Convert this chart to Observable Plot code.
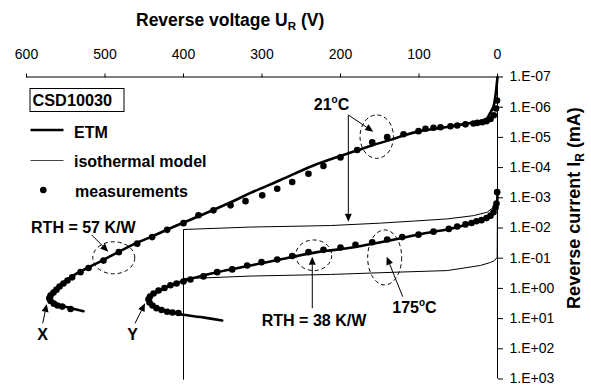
<!DOCTYPE html>
<html><head><meta charset="utf-8">
<script src="https://cdn.jsdelivr.net/npm/d3@7"></script>
<script src="https://cdn.jsdelivr.net/npm/@observablehq/plot@0.6"></script>
<style>body{margin:0;background:#fff}svg{display:block}</style>
</head><body><div id="chart"></div>
<script>
const xTicks = [600, 500, 400, 300, 200, 100, 0];
const yTicks = [1e-7, 1e-6, 1e-5, 1e-4, 1e-3, 1e-2, 1e-1, 1e0, 1e1, 1e2, 1e3];

// ETM model, 21 °C (voltage V, current mA) in path order
const etm21V = [0, 0.4, 2.5, 5.1, 10.2, 13.1, 21.7, 30.6, 64.1, 98.1, 119.7, 132.5, 158, 178.7, 200, 234.4, 276.4, 314.6, 336.3, 378.3, 400, 442, 463.7, 505.7, 540.1, 560.5, 569.4, 573.2, 572, 565.6, 547.8, 527.4];
const etm21I = [1.0e-7, 1.26e-7, 4.0e-7, 9.5e-7, 1.7e-6, 2.3e-6, 2.9e-6, 3.2e-6, 4.5e-6, 6.2e-6, 8.65e-6, 1.12e-5, 1.79e-5, 2.7e-5, 4.13e-5, 8.5e-5, 2.57e-4, 6.9e-4, 1.28e-3, 3.85e-3, 6.6e-3, 2.0e-2, 3.5e-2, 0.128, 0.37, 0.91, 1.48, 2.0, 2.5, 3.2, 4.2, 5.7];

// measurements, 21 °C
const meas21V = [0.6, 1.9, 4.7, 8.9, 14.0, 19.5, 25.5, 30.6, 40.8, 51.3, 59.9, 72.6, 81.5, 91.7, 100.6, 119.7, 140.5, 159.6, 178.7, 200, 221.7, 240.8, 261.5, 280.6, 299.7, 321, 340.1, 361.8, 380.9, 400, 420.8, 439.9, 459, 482.4, 501.9, 521, 531.2, 541.8, 547.8, 552.9, 557.9, 561.8, 565.6, 569.4, 570.7, 569.4, 565.2, 560.5, 554.5, 543.9];
const meas21I = [6.0e-7, 1.1e-6, 1.85e-6, 2.45e-6, 2.9e-6, 3.15e-6, 3.3e-6, 3.45e-6, 3.7e-6, 4.05e-6, 4.25e-6, 4.6e-6, 4.8e-6, 5.2e-6, 6.2e-6, 7.9e-6, 9.8e-6, 1.44e-5, 2.6e-5, 4.6e-5, 8.9e-5, 1.6e-4, 3.0e-4, 5.0e-4, 8.3e-4, 1.29e-3, 1.78e-3, 2.6e-3, 3.8e-3, 6.9e-3, 1.15e-2, 2.0e-2, 3.3e-2, 6.3e-2, 0.12, 0.21, 0.29, 0.43, 0.55, 0.69, 0.87, 1.10, 1.38, 1.74, 2.14, 2.6, 3.2, 3.7, 4.0, 4.8];

// ETM model, 175 °C
const etm175V = [0, 0.4, 2.5, 7.6, 13.1, 30.6, 43.3, 64.1, 85.4, 107, 127.8, 149, 170.7, 191.5, 212.7, 229.7, 272.6, 314.6, 357.1, 391.1, 416.6, 433.5, 442.4, 444.9, 441, 429.3, 408, 378.3, 350.7];
const etm175I = [7.8e-4, 1.23e-3, 2.3e-3, 3.6e-3, 4.9e-3, 6.5e-3, 8.3e-3, 1.12e-2, 1.38e-2, 1.78e-2, 2.3e-2, 2.95e-2, 3.8e-2, 4.7e-2, 5.5e-2, 6.3e-2, 0.105, 0.174, 0.29, 0.48, 0.79, 1.35, 2.0, 2.7, 3.6, 4.8, 6.9, 8.9, 11.5];

// measurements, 175 °C
const meas175V = [0.4, 1.3, 2.5, 5.1, 8.9, 14.0, 20.4, 26.8, 33.1, 40.8, 51.3, 62.0, 81.5, 100.6, 121.4, 140.5, 159.6, 180.9, 200, 221.7, 240.8, 261.5, 280.6, 300.6, 318.9, 338, 357.1, 374.5, 391.1, 400, 408.9, 416.6, 424.2, 431.8, 438.2, 442.7, 444.6, 443.3, 439.5, 434.4, 428, 420.8, 414, 406.4];
const meas175I = [6.5e-4, 1.55e-3, 2.1e-3, 3.0e-3, 3.9e-3, 4.7e-3, 5.5e-3, 6.0e-3, 6.8e-3, 7.6e-3, 8.9e-3, 1.07e-2, 1.32e-2, 1.66e-2, 2.0e-2, 2.4e-2, 2.95e-2, 3.6e-2, 4.4e-2, 5.3e-2, 6.3e-2, 8.5e-2, 0.11, 0.135, 0.174, 0.235, 0.29, 0.40, 0.51, 0.59, 0.69, 0.79, 0.97, 1.17, 1.48, 1.86, 2.3, 2.95, 3.7, 4.5, 5.2, 5.9, 6.3, 6.5];

// isothermal model, 21 °C
const iso21V = [0, 0.6, 3.8, 13.1, 30.6, 64.1, 107, 149, 212.7, 314.6, 400, 400];
const iso21I = [5.8e-4, 1.23e-3, 1.95e-3, 3.0e-3, 3.9e-3, 5.0e-3, 5.9e-3, 6.9e-3, 8.3e-3, 9.3e-3, 1.12e-2, 1e3];

// isothermal model, 175 °C
const iso175V = [0, 0.4, 3.8, 8.9, 21.7, 64.1, 127.8, 212.7, 314.6, 374.5, 400, 400];
const iso175I = [1.2e-3, 9.3e-2, 0.12, 0.138, 0.174, 0.257, 0.29, 0.345, 0.39, 0.45, 0.47, 1e3];

// annotations (data coordinates)
const labelText = ["21°C", "RTH = 57 K/W", "X", "Y", "RTH = 38 K/W", "175°C"];
const labelV = [210.8, 527.0, 579, 464.3, 233.1, 105.1];
const labelI = [1.29e-6, 1.52e-2, 53, 53, 18.3, 6.8];

const arrowV1 = [189.4, 189.4, 516.3, 578.7, 461.1, 235.3, 120.1];
const arrowI1 = [1.88e-6, 1.88e-6, 1.77e-2, 14.9, 14.9, 4.74, 1.95];
const arrowV2 = [157.6, 189.4, 495.2, 573.6, 448.4, 235.3, 140.5];
const arrowI2 = [6.7e-6, 6.4e-3, 6.3e-2, 3.4, 3.24, 9.3e-2, 9.3e-2];

const ellV = [153.2, 488.2, 233.5, 143.1];
const ellI = [9.8e-6, 0.1007, 8.3e-2, 9.8e-2];
const ellRx = [16.7, 21, 18, 17];
const ellRy = [21.7, 16, 15.3, 27.5];

const legendLabels = ["CSD10030", "ETM", "isothermal model", "measurements"];

const zip = (V, I) => V.map((v, i) => ({V: v, I: I[i]}));

const FONT = "Arial, 'Liberation Sans', sans-serif";
const fmt = d => { const e = Math.round(Math.log10(d)); return "1.E" + (e < 0 ? "-" : "+") + String(Math.abs(e)).padStart(2, "0"); };

const plot = Plot.plot({
  width: 591, height: 387,
  marginLeft: 26, marginRight: 94, marginTop: 76.5, marginBottom: 8.5,
  style: {fontFamily: FONT, background: "white", color: "black"},
  x: {domain: [600, 0]},
  y: {type: "log", domain: [1e-7, 1e3], reverse: true},
  marks: [
    Plot.ruleY([1e-7], {stroke: "black", strokeWidth: 1}),
    Plot.ruleX([0], {stroke: "black", strokeWidth: 1}),
    Plot.axisX({anchor: "top", ticks: xTicks, tickSize: 4, tickPadding: 14, fontSize: 14, label: null, tickFormat: d => String(d)}),
    Plot.axisY({anchor: "right", ticks: yTicks, tickSize: 5, tickPadding: 7, fontSize: 14, label: null, tickFormat: fmt}),
    Plot.line(zip(iso21V, iso21I), {x: "V", y: "I", stroke: "black", strokeWidth: 1}),
    Plot.line(zip(iso175V, iso175I), {x: "V", y: "I", stroke: "black", strokeWidth: 1}),
    Plot.line(zip(etm21V, etm21I), {x: "V", y: "I", stroke: "black", strokeWidth: 2.6, curve: "catmull-rom"}),
    Plot.line(zip(etm175V, etm175I), {x: "V", y: "I", stroke: "black", strokeWidth: 2.6, curve: "catmull-rom"}),
    Plot.dot(zip(meas21V, meas21I), {x: "V", y: "I", r: 3.3, fill: "black"}),
    Plot.dot(zip(meas175V, meas175I), {x: "V", y: "I", r: 3.3, fill: "black"})
  ]
});
document.getElementById("chart").append(plot);

const sx = plot.scale("x"), sy = plot.scale("y");
const X = v => sx.apply(v), Y = i => sy.apply(i);
const svg = d3.select(plot);
const g = svg.append("g").attr("font-family", FONT).attr("font-weight", "bold").attr("text-anchor", "start");

// titles
const xt = g.append("text").attr("x", 136).attr("y", 26).attr("font-size", 17.5).attr("text-anchor", "start");
xt.append("tspan").text("Reverse voltage U");
xt.append("tspan").attr("font-size", 11.5).attr("dy", 4).text("R");
xt.append("tspan").attr("dy", -4).text(" (V)");

const yt = g.append("text").attr("transform", "translate(580,208) rotate(-90)").attr("text-anchor", "middle").attr("font-size", 18);
yt.append("tspan").text("Reverse current I");
yt.append("tspan").attr("font-size", 12).attr("dy", 4).text("R");
yt.append("tspan").attr("dy", -4).text(" (mA)");

// dashed ellipses
ellV.forEach((v, i) => {
  g.append("ellipse").attr("cx", X(v)).attr("cy", Y(ellI[i])).attr("rx", ellRx[i]).attr("ry", ellRy[i])
    .attr("fill", "none").attr("stroke", "black").attr("stroke-width", 1).attr("stroke-dasharray", "4 3");
});

// arrows
arrowV1.forEach((v, i) => {
  const x1 = X(v), y1 = Y(arrowI1[i]), x2 = X(arrowV2[i]), y2 = Y(arrowI2[i]);
  const a = Math.atan2(y2 - y1, x2 - x1), L = 8, W = 3.5;
  const bx = x2 - L * Math.cos(a), by = y2 - L * Math.sin(a);
  g.append("line").attr("x1", x1).attr("y1", y1).attr("x2", bx).attr("y2", by).attr("stroke", "black").attr("stroke-width", 1);
  g.append("path").attr("d", `M${x2},${y2}L${bx + W * Math.sin(a)},${by - W * Math.cos(a)}L${bx - W * Math.sin(a)},${by + W * Math.cos(a)}Z`).attr("fill", "black");
});

// labels
labelText.forEach((t, i) => {
  const txt = g.append("text").attr("x", X(labelV[i])).attr("y", Y(labelI[i])).attr("text-anchor", "middle").attr("font-size", 16);
  if (t.includes("°")) {
    const [a, b] = t.split("°");
    txt.append("tspan").text(a);
    txt.append("tspan").attr("font-size", 10).attr("dy", -7).text("o");
    txt.append("tspan").attr("dy", 7).text(b);
  } else txt.text(t);
});

// legend
g.append("rect").attr("x", 30).attr("y", 88.5).attr("width", 94).attr("height", 23).attr("fill", "white").attr("stroke", "black").attr("stroke-width", 1);
g.append("text").attr("x", 32.5).attr("y", 106.3).attr("font-size", 16.3).text(legendLabels[0]);
g.append("line").attr("x1", 30.5).attr("x2", 63.5).attr("y1", 130).attr("y2", 130).attr("stroke", "black").attr("stroke-width", 2.6);
g.append("text").attr("x", 74).attr("y", 137.5).attr("font-size", 16).text(legendLabels[1]);
g.append("line").attr("x1", 30.5).attr("x2", 63.5).attr("y1", 160.5).attr("y2", 160.5).attr("stroke", "#444").attr("stroke-width", 1);
g.append("text").attr("x", 74).attr("y", 166.5).attr("font-size", 16).text(legendLabels[2]);
g.append("circle").attr("cx", 43.3).attr("cy", 190).attr("r", 3.3).attr("fill", "black");
g.append("text").attr("x", 75).attr("y", 196.5).attr("font-size", 16).text(legendLabels[3]);
</script>
</body></html>
